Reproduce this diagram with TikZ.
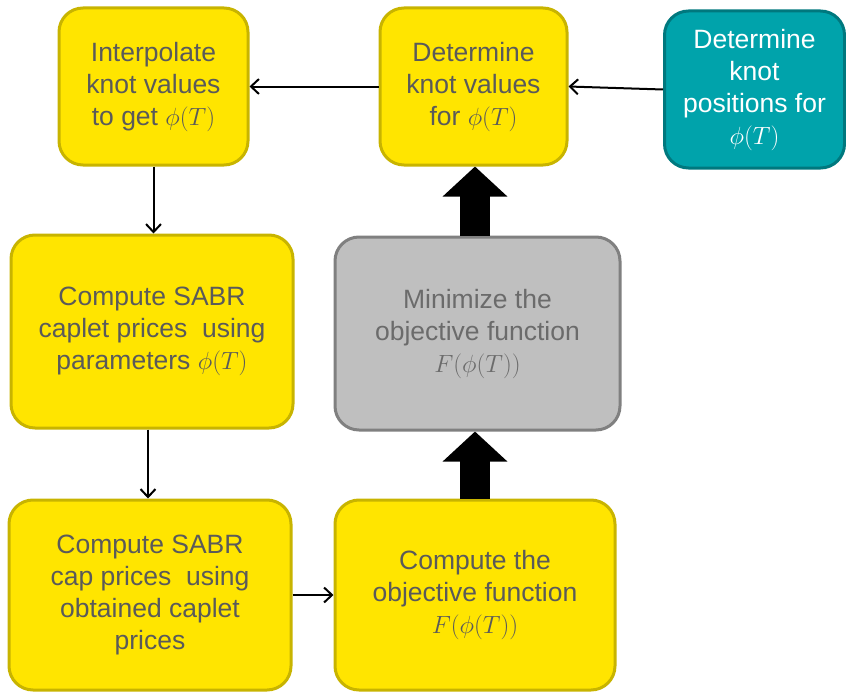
\documentclass[tikz,border=0pt]{standalone}
\usepackage{fontspec}
\setmainfont{Liberation Sans}
\usetikzlibrary{arrows.meta}
\definecolor{ybox}{HTML}{FFE500}
\definecolor{yedge}{HTML}{C8B400}
\definecolor{tbox}{HTML}{00A3AB}
\definecolor{tedge}{HTML}{00787E}
\definecolor{gbox}{HTML}{BFBFBF}
\definecolor{gedge}{HTML}{808080}
\definecolor{txt}{HTML}{5A5A5A}
\begin{document}
\begin{tikzpicture}[x=1pt,y=-1pt,
  box/.style={rounded corners=24pt,line width=3pt,align=center,inner sep=0pt,
    font=\fontsize{26.5}{32}\selectfont},
  ystyle/.style={box,fill=ybox,draw=yedge,text=txt},
  tstyle/.style={box,fill=tbox,draw=tedge,text=white},
  gstyle/.style={box,fill=gbox,draw=gedge,text=txt!90!white},
  thin/.style={line width=2pt,-{Straight Barb[length=8pt,width=15pt]}},
  fat/.style={line width=30pt,-{Triangle[length=30pt,width=63pt]}}]
\useasboundingbox (0,0) rectangle (846,693);
\node[ystyle,minimum width=189pt,minimum height=157pt] (A) at (153.5,86.5)
  {Interpolate\\knot values\\to get $\phi(T)$};
\node[ystyle,minimum width=187pt,minimum height=157pt] (B) at (473.5,86.5)
  {Determine\\knot values\\for $\phi(T)$};
\node[tstyle,minimum width=180pt,minimum height=157pt] (C) at (754.5,89.5)
  {Determine\\knot\\positions for\\$\phi(T)$};
\node[ystyle,minimum width=282pt,minimum height=193pt] (D) at (152,331.5)
  {Compute SABR\\caplet prices\ \ using\\parameters $\phi(T)$};
\node[gstyle,minimum width=285pt,minimum height=193pt] (E) at (477.5,333.5)
  {Minimize the\\objective function\\$F(\phi(T))$};
\node[ystyle,minimum width=282pt,minimum height=190pt] (F) at (150,595)
  {Compute SABR\\cap prices\ \ using\\obtained caplet\\prices};
\node[ystyle,minimum width=280pt,minimum height=190pt] (G) at (475,595)
  {Compute the\\objective function\\$F(\phi(T))$};
\draw[thin] (C.west) -- (B.east);
\draw[thin] (B.west) -- (A.east);
\draw[thin] (A.south) -- (D.north -| A.south);
\draw[thin] (D.south -| 148,0) -- (F.north -| 148,0);
\draw[thin] (F.east) -- (G.west);
\draw[fat] (G.north) -- (E.south -| G.north);
\draw[fat] (E.north -| G.north) -- (B.south -| G.north);
\end{tikzpicture}
\end{document}
